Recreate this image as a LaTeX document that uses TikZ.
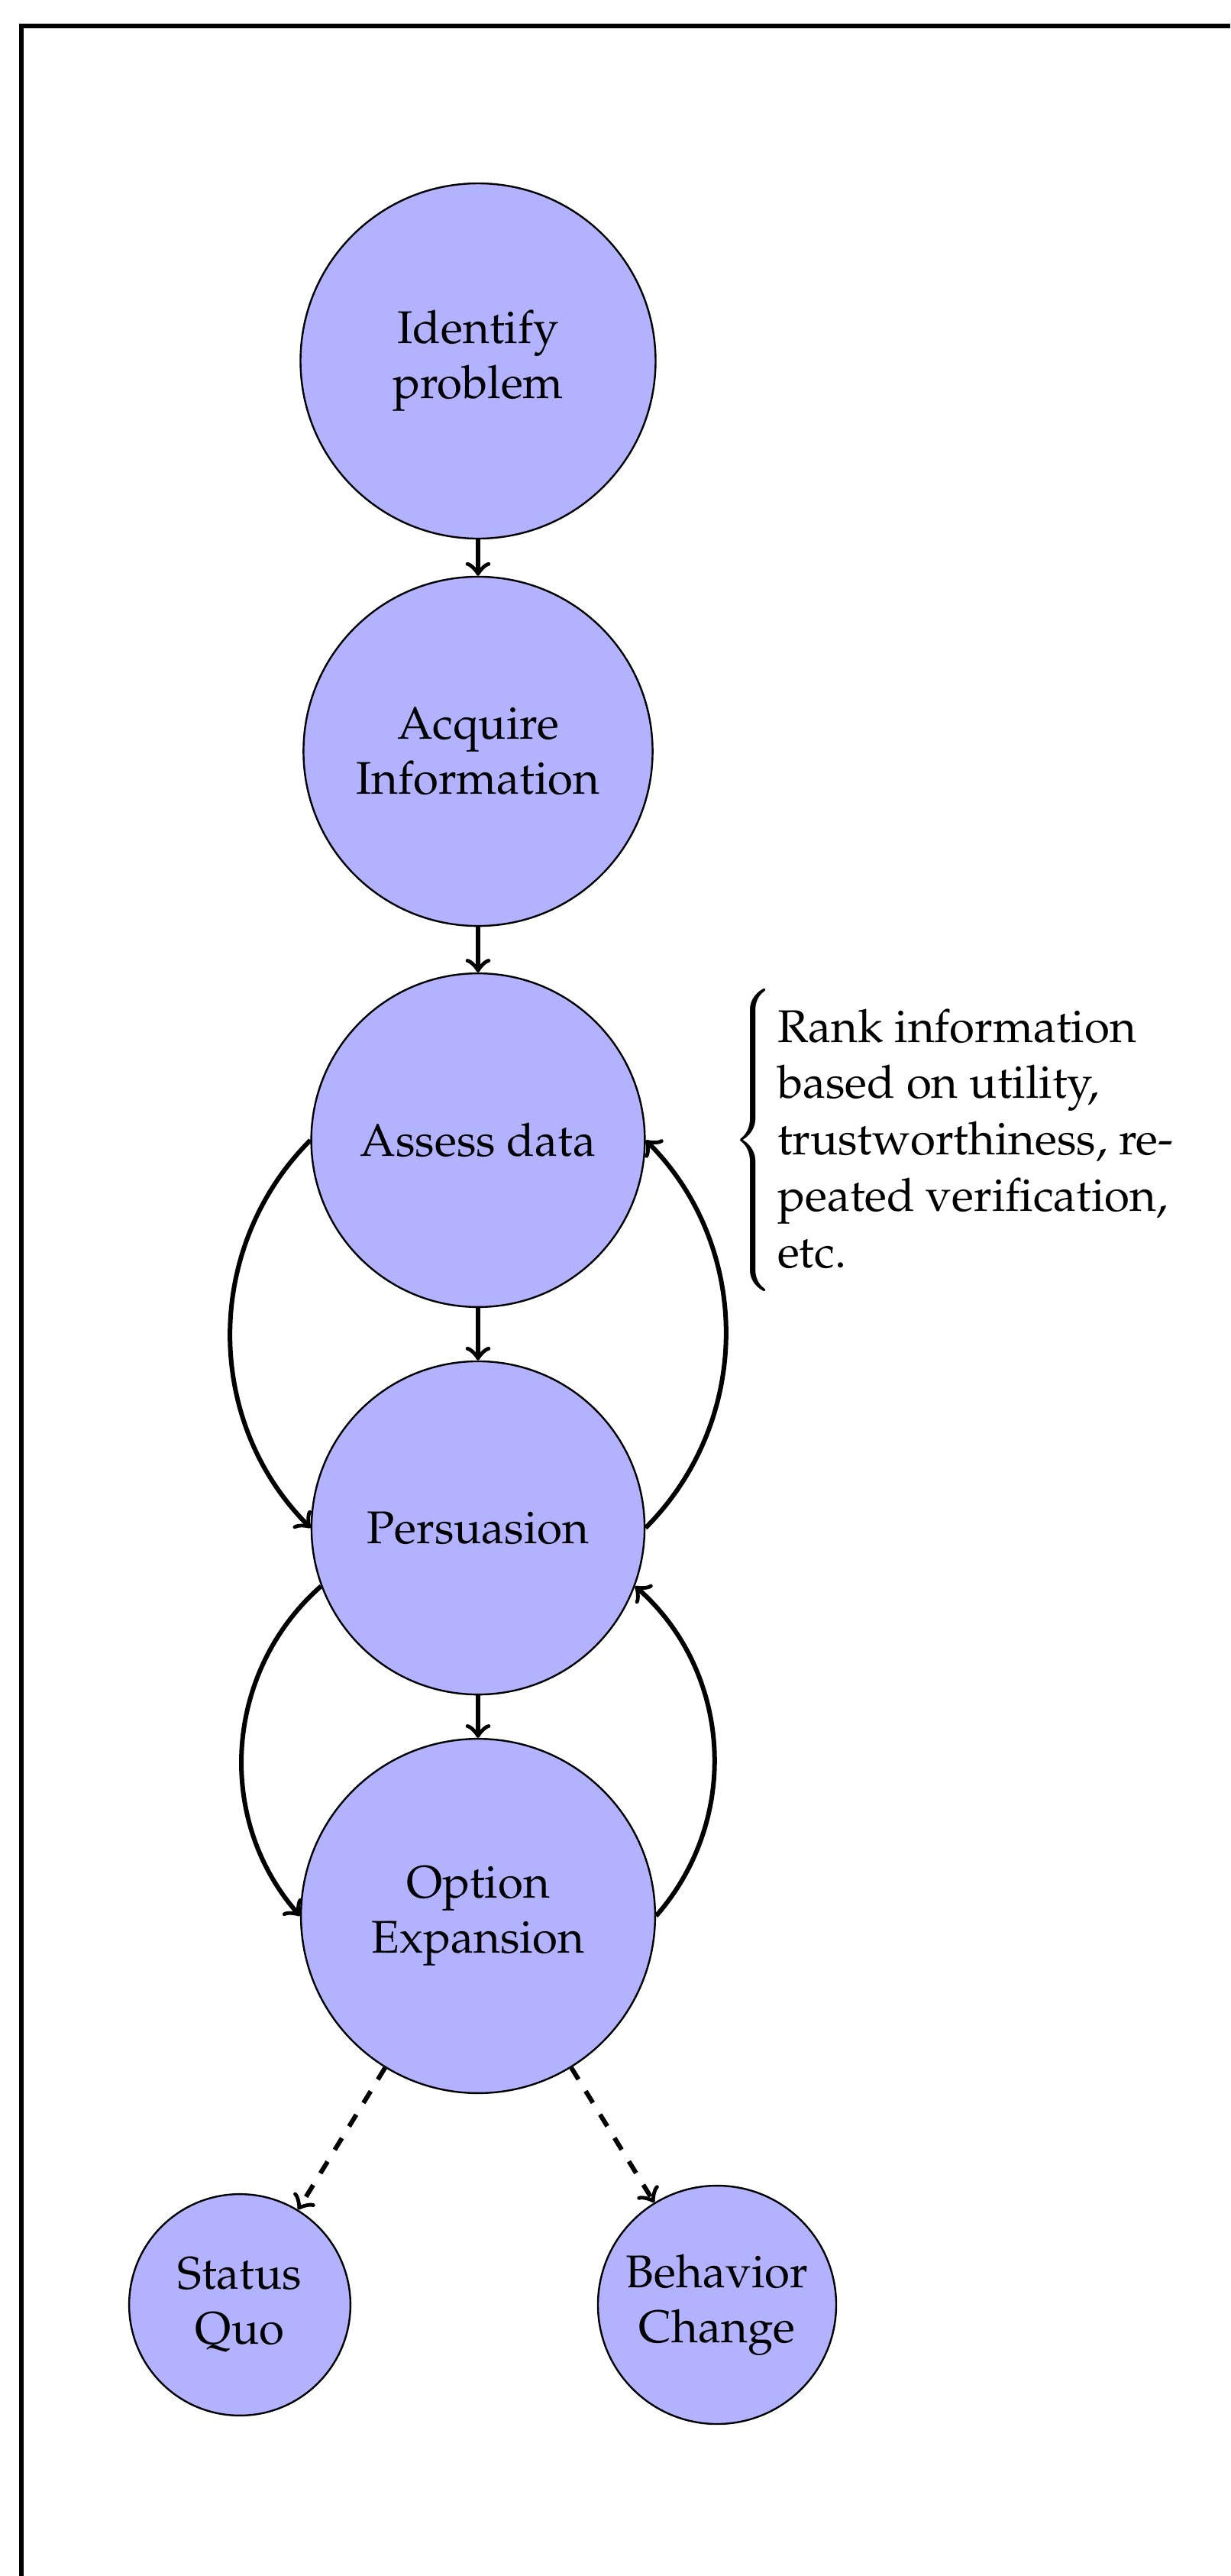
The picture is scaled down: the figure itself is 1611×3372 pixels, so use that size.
\documentclass[tikz,border=0pt]{standalone}
\usepackage[T1]{fontenc}
\usepackage{mathpazo}
\begin{document}
\begin{tikzpicture}[x=0.16667pt,y=-0.16667pt]
\tikzset{
  stage/.style={circle,draw=black,thin,fill=blue!30,align=center,inner sep=0pt},
  flow/.style={->,line width=1pt},
  alt/.style={->,line width=1pt,dashed},
}
\useasboundingbox (0,0) rectangle (1611,3372);
% frame (cropped box)
\draw[line width=1pt,line join=miter] (28,3372) -- (28,34) -- (1611,34);
% stages
\node[stage,minimum size=77.5pt] (idp) at (626,472.5) {Identify\\problem};
\node[stage,minimum size=76.2pt] (acq) at (626,983.5) {Acquire\\Information};
\node[stage,minimum size=72.8pt] (ass) at (626,1492.5) {Assess data};
\node[stage,minimum size=72.7pt] (per) at (626,2000) {Persuasion};
\node[stage,minimum size=77.3pt] (opt) at (626,2508) {Option\\Expansion};
\node[stage,minimum size=48.3pt] (sq) at (314,3017) {Status\\Quo};
\node[stage,minimum size=52pt] (bc) at (939,3017) {Behavior\\Change};
% note: brace and text
\node[anchor=west,inner sep=0pt] (brace) at (958,1492.5)
  {$\left\{\vcenter{\hrule height 70pt width 0pt}\right.$};
\node[anchor=base west,inner sep=0pt] (note) at (1017,1364)
  {\parbox[t]{92pt}{\raggedright\baselineskip=12.3pt Rank information\\based on utility,\\trustworthiness, re-\\peated verification,\\etc.}};
% connectors
\draw[flow] (idp) -- (acq);
\draw[flow] (acq) -- (ass);
\draw[flow] (ass) -- (per);
\draw[flow] (per) -- (opt);
\draw[flow] (ass.west) to[bend right=45] (per.west);
\draw[flow] (per.east) to[bend right=45] (ass.east);
\draw[flow] (per) to[bend right=45] (opt.west);
\draw[flow] (opt.east) to[bend right=45] (per);
\draw[alt] (opt) -- (sq);
\draw[alt] (opt) -- (bc);
\end{tikzpicture}
\end{document}
